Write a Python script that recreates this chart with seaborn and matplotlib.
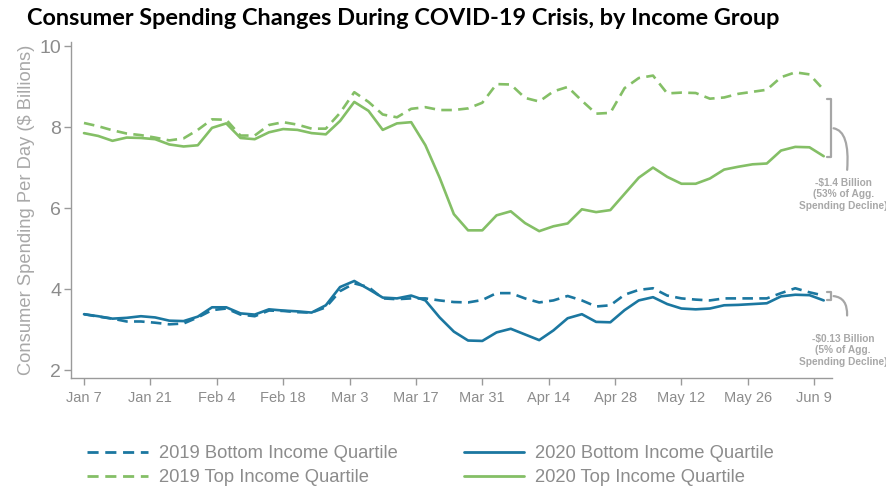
import pandas as pd
import numpy as np
import seaborn as sns
import matplotlib.pyplot as plt
import matplotlib.dates as mdates
from matplotlib.lines import Line2D

# ---------- data (every 3 days from Jan 7) ----------
dates = pd.date_range("2020-01-07", periods=53, freq="3D")

top_2020 = [7.85, 7.78, 7.66, 7.74, 7.73, 7.70, 7.57, 7.52, 7.55, 7.98,
            8.09, 7.73, 7.70, 7.87, 7.95, 7.93, 7.85, 7.82, 8.15, 8.62,
            8.40, 7.93, 8.09, 8.12, 7.55, 6.75, 5.85, 5.45, 5.45, 5.82,
            5.92, 5.63, 5.43, 5.55, 5.62, 5.97, 5.90, 5.95, 6.35, 6.75,
            7.00, 6.77, 6.60, 6.60, 6.73, 6.95, 7.02, 7.08, 7.10, 7.42,
            7.51, 7.50, 7.28]
top_2019 = [8.10, 8.02, 7.92, 7.84, 7.80, 7.74, 7.67, 7.72, 7.93, 8.19,
            8.18, 7.79, 7.79, 8.05, 8.12, 8.06, 7.96, 7.96, 8.35, 8.86,
            8.62, 8.31, 8.24, 8.45, 8.49, 8.42, 8.42, 8.46, 8.60, 9.06,
            9.05, 8.72, 8.63, 8.88, 8.99, 8.65, 8.33, 8.35, 8.96, 9.21,
            9.27, 8.83, 8.85, 8.84, 8.70, 8.73, 8.82, 8.87, 8.92, 9.23,
            9.35, 9.30, 8.92]
bottom_2020 = [3.38, 3.33, 3.27, 3.29, 3.33, 3.30, 3.22, 3.21, 3.32, 3.55,
               3.55, 3.40, 3.37, 3.50, 3.47, 3.45, 3.42, 3.60, 4.05, 4.20,
               4.00, 3.79, 3.77, 3.84, 3.72, 3.30, 2.95, 2.73, 2.72, 2.93,
               3.02, 2.88, 2.74, 2.98, 3.28, 3.38, 3.19, 3.18, 3.48, 3.72,
               3.80, 3.63, 3.52, 3.50, 3.52, 3.60, 3.61, 3.63, 3.65, 3.82,
               3.86, 3.85, 3.72]
bottom_2019 = [3.38, 3.32, 3.27, 3.20, 3.20, 3.17, 3.13, 3.15, 3.30, 3.48,
               3.52, 3.37, 3.33, 3.47, 3.46, 3.43, 3.42, 3.55, 3.95, 4.14,
               4.05, 3.77, 3.75, 3.77, 3.77, 3.72, 3.68, 3.67, 3.73, 3.90,
               3.90, 3.77, 3.67, 3.72, 3.83, 3.72, 3.57, 3.60, 3.86, 3.98,
               4.02, 3.84, 3.77, 3.74, 3.72, 3.77, 3.77, 3.77, 3.77, 3.90,
               4.02, 3.92, 3.84]

series = {
    ("Bottom", "2019"): bottom_2019,
    ("Top", "2019"): top_2019,
    ("Bottom", "2020"): bottom_2020,
    ("Top", "2020"): top_2020,
}
frames = []
for (q, yr), vals in series.items():
    frames.append(pd.DataFrame({"date": dates, "value": vals,
                                "quartile": q, "year": yr}))
df = pd.concat(frames, ignore_index=True)

GREEN = "#84bf66"
BLUE = "#1b77a0"
GRAY = "#8c8c8c"
LIGHT = "#a8a8a8"

sns.set_style("white")
plt.rcParams["font.family"] = ["Liberation Sans", "DejaVu Sans"]

fig = plt.figure(figsize=(8.87, 4.88), dpi=100)
ax = fig.add_axes([0.080, 0.225, 0.858, 0.689])

sns.lineplot(data=df, x="date", y="value", hue="quartile", style="year",
             palette={"Bottom": BLUE, "Top": GREEN},
             dashes={"2019": (4, 2.4), "2020": ""},
             linewidth=1.9, ax=ax, legend=False)

# axes styling
ax.set_xlim(pd.Timestamp("2020-01-04 06:00"), pd.Timestamp("2020-06-12 18:00"))
ax.set_ylim(1.8, 10.1)
ax.set_yticks([2, 4, 6, 8, 10])
ax.set_xticks(pd.date_range("2020-01-07", "2020-06-09", freq="14D"))
ax.xaxis.set_major_formatter(plt.FuncFormatter(
    lambda v, p: f"{mdates.num2date(v):%b} {mdates.num2date(v).day}"))
for s in ["top", "right"]:
    ax.spines[s].set_visible(False)
for s in ["left", "bottom"]:
    ax.spines[s].set_color("#9a9a9a")
    ax.spines[s].set_linewidth(1.0)
ax.tick_params(axis="both", direction="out", length=5, width=1,
               color="#9a9a9a", labelcolor=GRAY, bottom=True, left=True)
ax.tick_params(axis="y", labelsize=14, pad=2)
ax.tick_params(axis="x", labelsize=10.5, pad=4)
ax.set_xlabel("")
ax.set_ylabel("Consumer Spending Per Day ($ Billions)", color=LIGHT,
              fontsize=13.2, labelpad=3)

fig.text(0.030, 0.962, "Consumer Spending Changes During COVID-19 Crisis, by Income Group",
         fontsize=16.9, fontweight="bold", family="Lato", color="black",
         va="center", ha="left")

# legend
handles = [
    Line2D([], [], color=BLUE, lw=2, dashes=(4, 2.4)),
    Line2D([], [], color=GREEN, lw=2, dashes=(4, 2.4)),
    Line2D([], [], color=BLUE, lw=2),
    Line2D([], [], color=GREEN, lw=2),
]
labels = ["2019 Bottom Income Quartile", "2019 Top Income Quartile",
          "2020 Bottom Income Quartile", "2020 Top Income Quartile"]
fig.legend(handles, labels, ncol=2, loc="lower left",
           bbox_to_anchor=(0.080, -0.030), frameon=False, fontsize=13.2,
           labelcolor=GRAY, handlelength=3.3, columnspacing=3.6,
           labelspacing=0.38, handletextpad=0.6)

# difference brackets on the right
bx = mdates.date2num(pd.Timestamp("2020-06-12 12:00"))

def bracket(y0, y1, tick, text_y, txt):
    ax.plot([bx - 0.9, bx, bx, bx - 0.9], [y1, y1, y0, y0],
            color="#a6a6a6", lw=1.6, clip_on=False)
    ym = (y0 + y1) / 2
    ax.annotate("", xy=(bx + 3.4, ym - tick), xytext=(bx, ym),
                arrowprops=dict(arrowstyle="-", color="#a6a6a6", lw=1.6,
                                connectionstyle="angle3,angleA=0,angleB=85"),
                annotation_clip=False)
    ax.text(bx + 2.6, text_y, txt, ha="center", va="top", fontsize=7.3,
            fontweight="bold", color=LIGHT, linespacing=1.2, clip_on=False)

bracket(7.25, 8.7, 1.1, 6.75, "-\\$1.4 Billion\n(53% of Agg.\nSpending Decline)")
bracket(3.74, 3.92, 0.55, 2.9, "-\\$0.13 Billion\n(5% of Agg.\nSpending Decline)")

plt.savefig("out.png", dpi=100)
